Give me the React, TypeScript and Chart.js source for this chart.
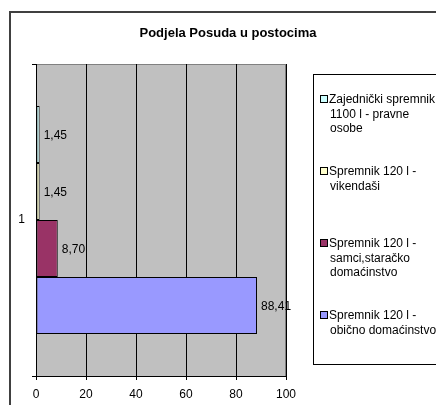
import React, { useEffect, useRef } from "react";
import { Chart, registerables } from "chart.js";

Chart.register(...registerables);

const categories = ["1"];
const seriesLabels = [
  "Zajednički spremnik 1100 l - pravne osobe",
  "Spremnik 120 l - vikendaši",
  "Spremnik 120 l - samci,staračko domaćinstvo",
  "Spremnik 120 l - obično domaćinstvo",
];
const legendLines = [
  ["Zajednički spremnik", "1100 l - pravne", "osobe"],
  ["Spremnik 120 l -", "vikendaši"],
  ["Spremnik 120 l -", "samci,staračko", "domaćinstvo"],
  ["Spremnik 120 l -", "obično domaćinstvo"],
];
const seriesValues = [[1.45], [1.45], [8.7], [88.41]];
const seriesColors = ["#CCFFFF", "#FFFFCC", "#993366", "#9999FF"];
const xTicks = [0, 20, 40, 60, 80, 100];
const titleText = "Podjela Posuda u postocima";

const FONT = "'Liberation Sans', Arial, sans-serif";

const decor = {
  id: "decor",
  beforeDraw(chart: any) {
    const { ctx, chartArea: a } = chart;
    ctx.save();
    ctx.fillStyle = "#C0C0C0";
    ctx.fillRect(a.left, a.top, a.right - a.left, a.bottom - a.top);
    ctx.strokeStyle = "#808080";
    ctx.lineWidth = 1;
    ctx.strokeRect(a.left + 0.5, a.top + 0.5, a.right - a.left - 1, a.bottom - a.top);
    ctx.restore();
  },
  afterDatasetsDraw(chart: any) {
    const { ctx } = chart;
    ctx.save();
    ctx.font = `12px ${FONT}`;
    ctx.fillStyle = "#000";
    ctx.textBaseline = "middle";
    ctx.textAlign = "left";
    chart.data.datasets.forEach((ds: any, i: number) => {
      const meta = chart.getDatasetMeta(i);
      meta.data.forEach((bar: any, j: number) => {
        const v = ds.data[j] as number;
        ctx.fillText(v.toFixed(2).replace(".", ","), bar.x + 4, bar.y + 1);
      });
    });
    ctx.restore();
  },
  afterDraw(chart: any) {
    const { ctx } = chart;
    ctx.save();
    // title
    ctx.font = `bold 13px ${FONT}`;
    ctx.fillStyle = "#000";
    ctx.textAlign = "center";
    ctx.textBaseline = "middle";
    ctx.fillText(titleText, 228, 33);
    // outer frame
    ctx.strokeStyle = "#404040";
    ctx.lineWidth = 2;
    ctx.strokeRect(10, 12, 440, 410);
    // legend box
    ctx.strokeStyle = "#000";
    ctx.lineWidth = 1;
    ctx.strokeRect(313.5, 74.5, 140, 290);
    const starts = [99, 171, 243, 315];
    ctx.font = `12px ${FONT}`;
    ctx.textAlign = "left";
    chart.data.datasets.forEach((ds: any, i: number) => {
      const y0 = starts[i];
      ctx.fillStyle = ds.backgroundColor;
      ctx.fillRect(320, y0 - 3, 7, 7);
      ctx.strokeStyle = "#000";
      ctx.strokeRect(320.5, y0 - 3.5, 7, 7);
      ctx.fillStyle = "#000";
      legendLines[i].forEach((line, k) => {
        ctx.fillText(line, k === 0 ? 329 : 330, y0 + 1 + k * 14.5);
      });
    });
    ctx.restore();
  },
};

export default function App() {
  const ref = useRef<HTMLCanvasElement>(null);
  useEffect(() => {
    const chart = new Chart(ref.current!, {
      type: "bar",
      data: {
        labels: categories,
        datasets: seriesLabels.map((label, i) => ({
          label,
          data: seriesValues[i],
          backgroundColor: seriesColors[i],
          borderColor: "#000",
          borderWidth: 1,
          borderSkipped: false,
          categoryPercentage: 0.73,
          barPercentage: 1,
        })),
      },
      options: {
        indexAxis: "y",
        animation: false,
        responsive: false,
        layout: { padding: { left: 0, right: 150, top: 64, bottom: 0 } },
        plugins: {
          legend: { display: false },
          title: { display: false },
          tooltip: { enabled: false },
        },
        scales: {
          x: {
            min: 0,
            max: 100,
            afterFit(s: any) {
              s.height = 29;
            },
            afterBuildTicks(s: any) {
              s.ticks = xTicks.map((v) => ({ value: v }));
            },
            ticks: {
              color: "#000",
              font: { family: FONT, size: 12 },
              padding: 7,
            },
            grid: { color: "#000", tickLength: 4, drawOnChartArea: true },
            border: { color: "#000" },
          },
          y: {
            afterFit(s: any) {
              s.width = 36;
            },
            ticks: {
              color: "#000",
              font: { family: FONT, size: 12 },
              padding: 7,
            },
            grid: { color: "#000", tickLength: 4, drawOnChartArea: false, offset: true },
            border: { color: "#000" },
          },
        },
      },
      plugins: [decor],
    });
    return () => chart.destroy();
  }, []);
  return (
    <div style={{ position: "fixed", left: 0, top: 0, width: 436, height: 405, overflow: "hidden", background: "#fff" }}>
      <canvas ref={ref} width={436} height={405} />
    </div>
  );
}
